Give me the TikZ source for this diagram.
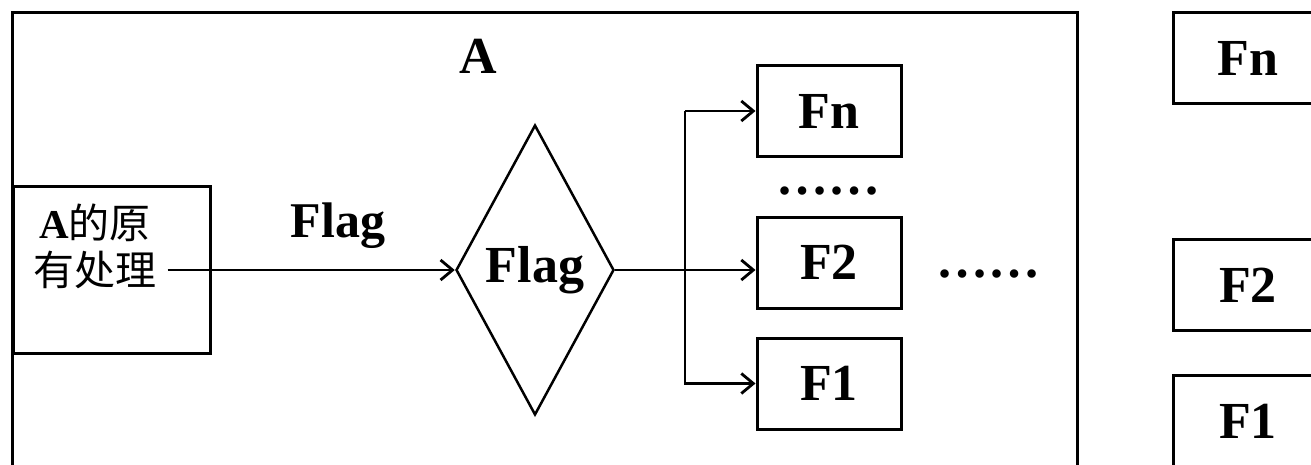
\documentclass[tikz,border=0pt]{standalone}
\usepackage{fontspec}
\setmainfont{Liberation Serif}
\newfontfamily\cjk{Noto Sans CJK SC}
\usetikzlibrary{positioning,arrows.meta,shapes.geometric}

\begin{document}
\begin{tikzpicture}[x=1pt, y=-1pt, >={Straight Barb[length=12pt,width=20pt]},
  every node/.style={font=\bfseries\fontsize{52}{60}\selectfont}]
\tikzset{
  fbox/.style={rectangle, draw, line width=3pt, minimum width=144pt, minimum height=91pt, inner sep=0pt},
  rbox/.style={fbox, minimum width=150pt},
  flagnode/.style={diamond, draw, line width=2.5pt, aspect=0.55, minimum width=158pt, minimum height=290pt, inner sep=0pt},
  link/.style={line width=2.8pt},
  cjktext/.style={font=\fontsize{41}{48}\selectfont, inner xsep=11pt}
}
\useasboundingbox (0,0) rectangle (1311,464);
% outer frame
\node[draw, line width=3pt, minimum width=1065pt, minimum height=480pt, anchor=north west] (frameA) at (11,11) {};
\node[anchor=base] (titleA) at (478,73) {A};
% original processing
\node[draw, line width=3pt, minimum width=197pt, minimum height=167pt] (orig) at (111.5,269.5) {};
\node[cjktext] (orig1) at (95,223) {\textbf{A}\cjk 的原};
\node[cjktext] (orig2) at (95,270) {\cjk 有处理};
\node[flagnode] (flag) at (535,270) {Flag};
\node[anchor=base, font=\bfseries\fontsize{50}{60}\selectfont] (flaglbl) at (338,237) {Flag};
\draw[->, link] (orig2.east) -- (flag.west);
% branches
\node[fbox] (Fn) at (829,111) {Fn};
\node[fbox] (F2) at (829,262.5) {F2};
\node[fbox] (F1) at (829,383.5) {F1};
\node[anchor=base] (dotsmid) at (828,194) {……};
\node[anchor=base] (dotsright) at (988,277) {……};
\coordinate (split) at (685,270);
\draw[->, link] (flag.east) -- (F2.west |- flag.east);
\draw[->, link] (Fn.west -| split) -- (Fn.west);
\draw[->, link] (Fn.west -| split) -- (F1.west -| split) -- (F1.west);
% right column
\node[rbox] (Rn) at (1248,58) {Fn};
\node[rbox] (R2) at (1248,285) {F2};
\node[rbox] (R1) at (1248,421) {F1};
\end{tikzpicture}
\end{document}
